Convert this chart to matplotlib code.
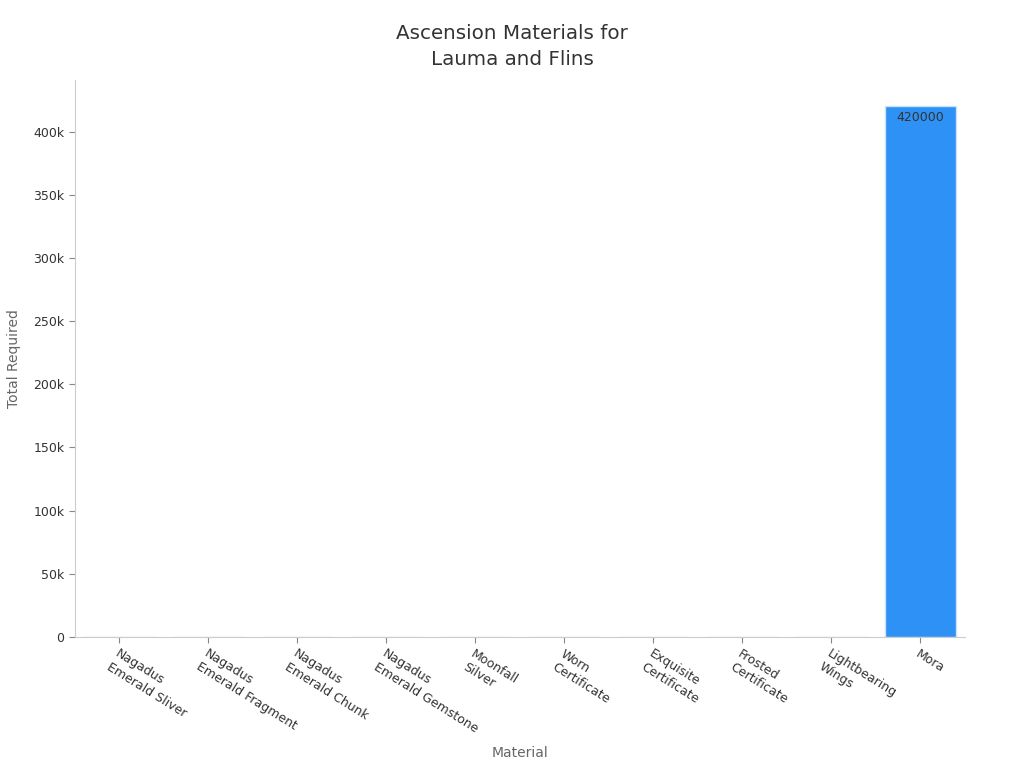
import matplotlib.pyplot as plt

materials = ['Nagadus\nEmerald Sliver', 'Nagadus\nEmerald Fragment', 'Nagadus\nEmerald Chunk',
             'Nagadus\nEmerald Gemstone', 'Moonfall\nSilver', 'Worn\nCertificate',
             'Exquisite\nCertificate', 'Frosted\nCertificate', 'Lightbearing\nWings', 'Mora']
totals = [1, 9, 9, 6, 168, 18, 30, 36, 46, 420000]

fig = plt.figure(figsize=(10.24, 7.68), dpi=100)
ax = fig.add_axes([0.0732, 0.1706, 0.869, 0.7255])

x = range(len(materials))
bars = ax.bar(x, totals, width=0.8, color='#2e91f5', edgecolor='#cfe3f8', linewidth=1)

# only the big bar gets a label, the rest are too small to show
for b, v in zip(bars, totals):
    if v > 1000:
        ax.text(b.get_x() + b.get_width() / 2, v - 3500, str(v), ha='center', va='top',
                fontsize=9, color='#333333')

ax.set_xlim(-0.5, len(materials) - 0.5)
ax.set_ylim(0, max(totals) * 1.05)
ax.set_yticks(range(0, 400001, 50000))
ax.set_yticklabels(['0' if t == 0 else f'{t // 1000}k' for t in range(0, 400001, 50000)])
ax.set_xticks(list(x))
ax.set_xticklabels(materials, rotation=-32, ha='left', va='top', rotation_mode='anchor')

ax.tick_params(axis='both', colors='#888888', labelcolor='#333333', labelsize=9, length=4)
for s in ['top', 'right']:
    ax.spines[s].set_visible(False)
for s in ['left', 'bottom']:
    ax.spines[s].set_color('#cccccc')

fig.text(0.5, 1 - 24 / 768, 'Ascension Materials for\nLauma and Flins', ha='center', va='top',
         fontsize=14.3, color='#333333', linespacing=1.45)
ax.set_xlabel('Material', fontsize=10, color='#666666', labelpad=8)
ax.set_ylabel('Total Required', fontsize=10, color='#666666', labelpad=9)

plt.savefig('out.png', dpi=100)
